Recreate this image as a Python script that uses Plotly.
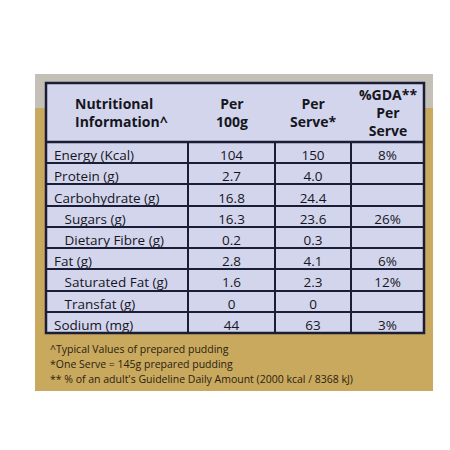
import plotly.graph_objects as go

nutrients = ["Energy (Kcal)", "Protein (g)", "Carbohydrate (g)", "Sugars (g)", "Dietary Fibre (g)",
             "Fat (g)", "Saturated Fat (g)", "Transfat (g)", "Sodium (mg)"]
indent = [False, False, False, True, True, False, True, True, False]
per100g = ["104", "2.7", "16.8", "16.3", "0.2", "2.8", "1.6", "0", "44"]
perServe = ["150", "4.0", "24.4", "23.6", "0.3", "4.1", "2.3", "0", "63"]
gda = ["8%", "", "", "26%", "", "6%", "12%", "", "3%"]
headers = ["Nutritional<br>Information^", "Per<br>100g", "Per<br>Serve*", "%GDA**<br>Per<br>Serve"]
footnotes = ["^Typical Values of prepared pudding", "*One Serve = 145g prepared pudding",
             "** % of an adult's Guideline Daily Amount (2000 kcal / 8368 kJ)"]

W = H = 450
x0, x1, y0, y1 = 38, 416, 75, 325
colw = [142, 87, 76, 73]
hdr_h = 59
row_h = (y1 - y0 - hdr_h) / len(nutrients)
fill = "#d3d5ec"
ink = "#1a1d36"
txt = "#16161e"

labels = [("\u00a0\u00a0\u00a0" if i else "") + n for n, i in zip(nutrients, indent)]

fig = go.Figure(go.Table(
    domain=dict(x=[x0 / W, x1 / W], y=[1 - y1 / H, 1 - y0 / H]),
    columnwidth=colw,
    header=dict(values=["", "", "", ""], height=hdr_h, fill_color=fill,
                line=dict(color=fill, width=1), font=dict(size=1)),
    cells=dict(values=[labels, per100g, perServe, gda], height=row_h,
               fill_color=fill, line=dict(color=ink, width=2),
               align=["left", "center", "center", "center"],
               font=dict(family="Open Sans", size=13.5, color=txt)),
))

shapes = [
    dict(type="rect", xref="paper", yref="paper", x0=27 / W, x1=425 / W, y0=1 - 383 / H, y1=1 - 66 / H,
         fillcolor="#c9a95e", line=dict(width=0), layer="below"),
    dict(type="rect", xref="paper", yref="paper", x0=27 / W, x1=425 / W, y0=1 - 100 / H, y1=1 - 66 / H,
         fillcolor="#c4c0b8", line=dict(width=0), layer="below"),
    dict(type="rect", xref="paper", yref="paper", x0=x0 / W, x1=x1 / W, y0=1 - y1 / H, y1=1 - y0 / H,
         line=dict(color=ink, width=2.5)),
    dict(type="line", xref="paper", yref="paper", x0=x0 / W, x1=x1 / W,
         y0=1 - (y0 + hdr_h) / H, y1=1 - (y0 + hdr_h) / H, line=dict(color=ink, width=2.5)),
]

annotations = []
cx = x0
for i, (h, w) in enumerate(zip(headers, colw)):
    if i == 0:
        ax, anch = cx + 27, "left"
    else:
        ax, anch = cx + w / 2, "center"
    annotations.append(dict(text="<b>" + h + "</b>", x=ax / W, y=1 - (y0 + hdr_h / 2) / H,
                            xref="paper", yref="paper", xanchor=anch, yanchor="middle",
                            align=anch, showarrow=False,
                            font=dict(family="Open Sans", size=14, color=txt)))
    cx += w
for k, f in enumerate(footnotes):
    annotations.append(dict(text=f, x=40 / W, y=1 - (341 + 15 * k) / H, xref="paper", yref="paper",
                            xanchor="left", yanchor="middle", showarrow=False,
                            font=dict(family="Open Sans", size=10.5, color="#2a2210")))

fig.update_layout(width=W, height=H, margin=dict(l=0, r=0, t=0, b=0),
                  paper_bgcolor="white", shapes=shapes, annotations=annotations)
fig.write_html("out.html")
